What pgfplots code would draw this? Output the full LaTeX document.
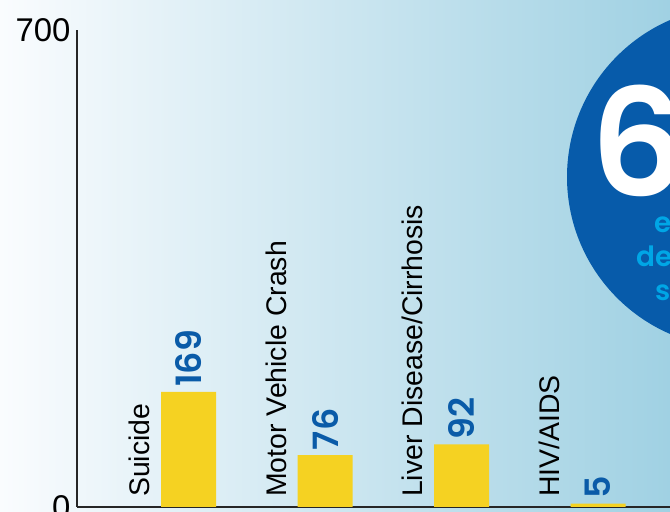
\documentclass[border=0pt]{standalone}
\usepackage{pgfplots}
\pgfplotsset{compat=1.18}
\usepackage{fontspec}
\setmainfont{Liberation Sans}
\newfontfamily\valfont{Poppins}[UprightFont=* SemiBold]
\newfontfamily\bigfont{Poppins}[UprightFont=* SemiBold]
\definecolor{bgL}{HTML}{FAFCFE}
\definecolor{bgR}{HTML}{A0D1E3}
\definecolor{barY}{HTML}{F5D222}
\definecolor{valB}{HTML}{0A5BA8}
\definecolor{circB}{HTML}{075BAA}
\definecolor{cyanT}{HTML}{00A6E6}
\pgfplotstableread{
x val
0 169
1 76
2 92
3 5
}\datatab
\begin{document}
\begin{tikzpicture}[x=1bp,y=1bp]
\useasboundingbox (0,0) rectangle (670,512);
\clip (0,0) rectangle (670,512);
\shade[left color=bgL, right color=bgR] (0,0) rectangle (670,512);
\fill[circB] (738,335) circle (171bp);
\node[text=white, font=\bigfont\fontsize{150}{150}\selectfont, anchor=base west, inner sep=0pt] at (590,315) {6};
\node[text=cyanT, font=\valfont\fontsize{28}{28}\selectfont, anchor=base west, inner sep=0pt] at (654,279) {e};
\node[text=cyanT, font=\valfont\fontsize{28}{28}\selectfont, anchor=base west, inner sep=0pt] at (636,245) {de};
\node[text=cyanT, font=\valfont\fontsize{28}{28}\selectfont, anchor=base west, inner sep=0pt] at (655,211) {s};
\begin{axis}[
  at={(77bp,5bp)}, anchor=south west,
  scale only axis, width=593bp, height=477bp,
  xmin=-0.817, xmax=3.527, ymin=0, ymax=700,
  axis x line=bottom, axis y line=left,
  axis line style={black!85, line width=1.2pt, -},
  ytick={0,700}, xtick=\empty,
  major tick length=0pt,
  yticklabel style={font=\fontsize{33}{33}\selectfont, xshift=-3bp},
  /pgf/number format/assume math mode=true,
  clip=false,
]
\addplot[ybar, bar width=55bp, fill=barY, draw=none,
  nodes near coords,
  every node near coord/.append style={rotate=90, anchor=west, text=valB, font=\valfont\fontsize{35}{35}\selectfont, inner sep=5bp}]
  table[x=x, y=val] {\datatab};
\node[rotate=90, anchor=base west, inner sep=0pt, font=\fontsize{28.5}{28.5}\selectfont] at ([xshift=-39bp, yshift=10bp]axis cs:0,0) {Suicide};
\node[rotate=90, anchor=base west, inner sep=0pt, font=\fontsize{28.5}{28.5}\selectfont] at ([xshift=-39bp, yshift=10bp]axis cs:1,0) {Motor Vehicle Crash};
\node[rotate=90, anchor=base west, inner sep=0pt, font=\fontsize{28.5}{28.5}\selectfont] at ([xshift=-39bp, yshift=10bp]axis cs:2,0) {Liver Disease/Cirrhosis};
\node[rotate=90, anchor=base west, inner sep=0pt, font=\fontsize{28.5}{28.5}\selectfont] at ([xshift=-39bp, yshift=10bp]axis cs:3,0) {HIV/AIDS};
\end{axis}
\end{tikzpicture}
\end{document}
